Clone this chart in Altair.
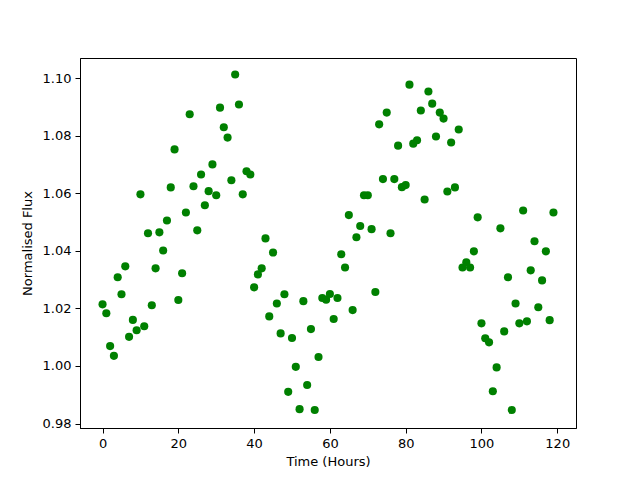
import altair as alt
import pandas as pd

hours = list(range(120))
flux = [
    1.0214, 1.0183, 1.0069, 1.0035, 1.0308, 1.0249, 1.0346, 1.0101, 1.0160, 1.0124,
    1.0596, 1.0138, 1.0461, 1.0211, 1.0339, 1.0464, 1.0401, 1.0505, 1.0620, 1.0752,
    1.0229, 1.0322, 1.0533, 1.0874, 1.0624, 1.0471, 1.0665, 1.0558, 1.0607, 1.0700,
    1.0593, 1.0897, 1.0829, 1.0793, 1.0645, 1.1012, 1.0908, 1.0596, 1.0676, 1.0665,
    1.0273, 1.0318, 1.0339, 1.0443, 1.0172, 1.0394, 1.0217, 1.0113, 1.0249, 0.9910,
    1.0097, 0.9997, 0.9850, 1.0225, 0.9934, 1.0128, 0.9847, 1.0031, 1.0236, 1.0230,
    1.0250, 1.0163, 1.0236, 1.0388, 1.0342, 1.0524, 1.0194, 1.0447, 1.0486, 1.0593,
    1.0593, 1.0475, 1.0257, 1.0839, 1.0649, 1.0880, 1.0461, 1.0649, 1.0765, 1.0621,
    1.0628, 1.0977, 1.0772, 1.0784, 1.0887, 1.0578, 1.0953, 1.0911, 1.0797, 1.0880,
    1.0859, 1.0606, 1.0776, 1.0620, 1.0821, 1.0342, 1.0360, 1.0342, 1.0398, 1.0516,
    1.0148, 1.0096, 1.0082, 0.9912, 0.9995, 1.0478, 1.0120, 1.0308, 0.9847, 1.0217,
    1.0148, 1.0540, 1.0155, 1.0332, 1.0433, 1.0204, 1.0297, 1.0398, 1.0159, 1.0533,
]
x_ticks = [0, 20, 40, 60, 80, 100, 120]
y_ticks = [0.98, 1.00, 1.02, 1.04, 1.06, 1.08, 1.10]

df = pd.DataFrame({"hours": hours, "flux": flux})

font = "DejaVu Sans"

chart = alt.Chart(df).mark_circle(size=66, color="#008000", opacity=1).encode(
    x=alt.X(
        "hours:Q",
        title="Time (Hours)",
        scale=alt.Scale(domain=[-5.95, 124.95], nice=False, zero=False),
        axis=alt.Axis(values=x_ticks, format="d", grid=False),
    ),
    y=alt.Y(
        "flux:Q",
        title="Normalised Flux",
        scale=alt.Scale(domain=[0.97845, 1.10695], nice=False, zero=False),
        axis=alt.Axis(values=y_ticks, format=".2f", grid=False),
    ),
).properties(
    width=496,
    height=370,
    autosize=alt.AutoSizeParams(type="none"),
    padding={"left": 72, "top": 50, "right": 56, "bottom": 45},
).configure_view(
    stroke="black", strokeWidth=1
).configure_axis(
    domainColor="black",
    domainWidth=1,
    tickColor="black",
    tickWidth=1,
    tickSize=5,
    labelFont=font,
    labelFontSize=13,
    labelColor="black",
    labelPadding=4,
    titleFont=font,
    titleFontSize=13,
    titleFontWeight="normal",
    titleColor="black",
).configure_axisX(
    titlePadding=5,
).configure_axisY(
    titlePadding=8,
)

chart.save("out.html", embed_options={"renderer": "svg", "actions": False})
